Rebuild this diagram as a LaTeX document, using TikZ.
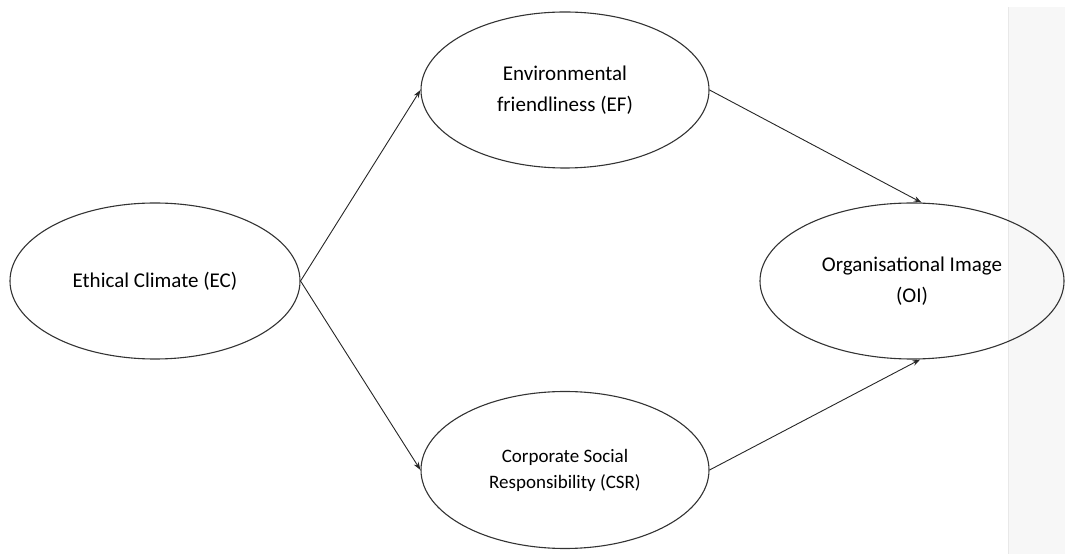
\documentclass[tikz,border=0pt]{standalone}
\usepackage{fontspec}
\setmainfont{Carlito}
\usetikzlibrary{shapes.geometric,arrows.meta}
\begin{document}
\begin{tikzpicture}[>={Stealth[length=8pt,width=5.5pt]},x=1pt,y=1pt,
	var/.style={draw=black!80,line width=1.1pt,ellipse,inner sep=0pt,align=center,
		minimum width=290,minimum height=156,font=\fontsize{21}{31}\selectfont},
	path/.style={->,draw=black!85,line width=0.9pt}]
			\def\W{1065}
			\def\H{554}
			\useasboundingbox (0,0) rectangle (\W,\H);
			% dai xam ben phai
			\fill[gray!6] (1008,0) rectangle (\W,547);
			\draw[gray!18,line width=1pt] (1008,0) -- (1008,547);
			\node[var] (EC) at (155,273) {Ethical Climate (EC)};
			\node[var,minimum width=288] (EF) at (565,464) {Environmental\\friendliness (EF)};
			\node[var,minimum width=288,minimum height=157,font=\fontsize{19}{26}\selectfont] (CSR) at (565,84) {Corporate Social\\Responsibility (CSR)};
			\node[var,minimum width=304] (OI) at (912,273) {Organisational Image\\(OI)};
			\draw[path] (EC.east) -- (EF.west);
			\draw[path] (EC.east) -- (CSR.west);
			\draw[path] (EF.east) -- (OI.83);
			\draw[path] (CSR.east) -- (OI.-84);
	\end{tikzpicture}
\end{document}
